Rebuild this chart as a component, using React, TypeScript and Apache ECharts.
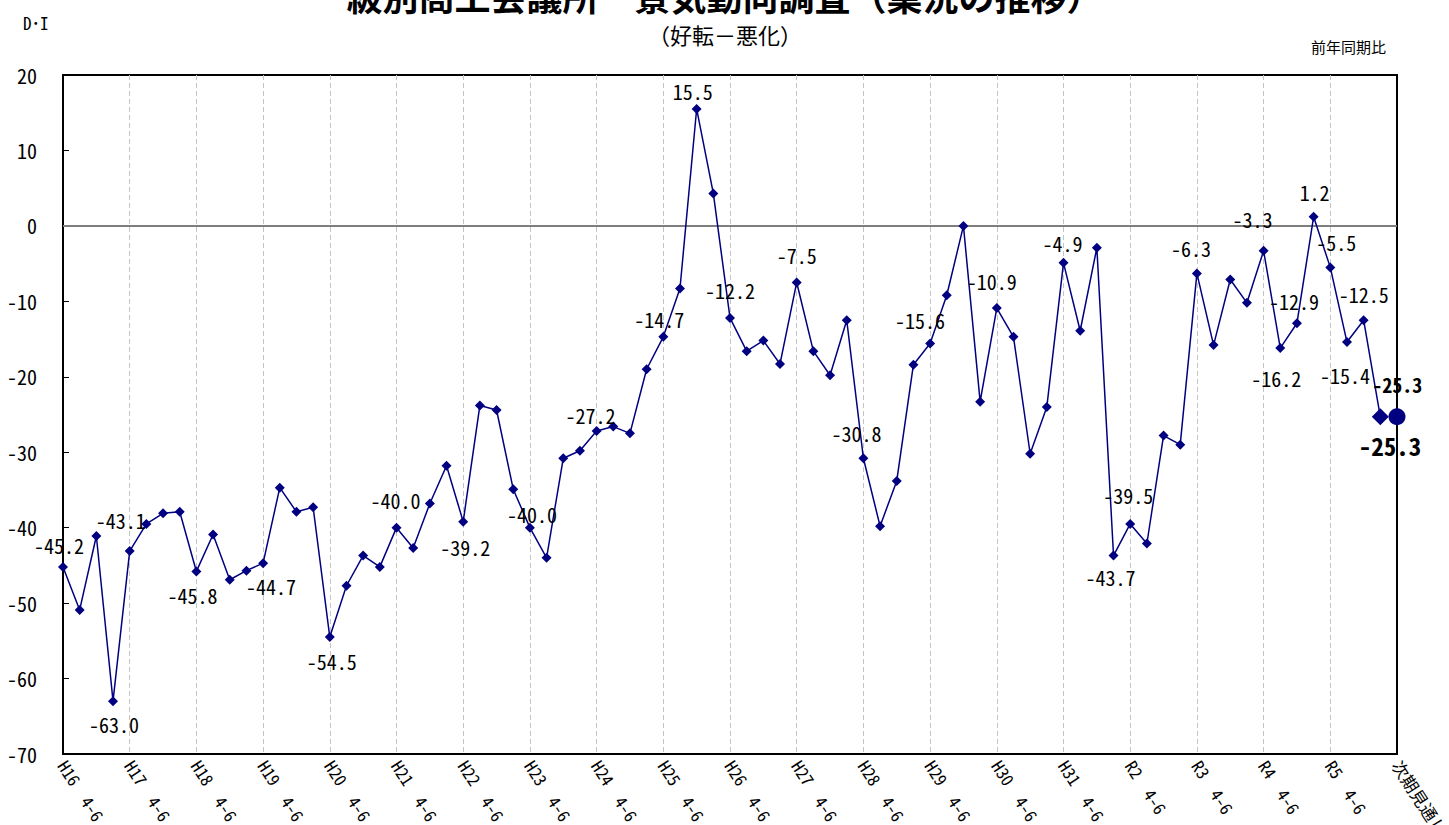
import React, { useEffect, useRef } from "react";
import * as echarts from "echarts";

const years = ["H16","H17","H18","H19","H20","H21","H22","H23","H24","H25","H26","H27","H28","H29","H30","H31","R2","R3","R4","R5"];
const quarters = ["4-6","7-9","10-12","1-3"];
const forecastName = "次期見通し";

const diValues = [
  -45.2, -50.9, -41.1, -63.0,
  -43.1, -39.5, -38.1, -37.9,
  -45.8, -40.9, -46.9, -45.7,
  -44.7, -34.7, -37.9, -37.3,
  -54.5, -47.7, -43.7, -45.2,
  -40.0, -42.7, -36.8, -31.8,
  -39.2, -23.8, -24.4, -34.9,
  -40.0, -44.0, -30.8, -29.8,
  -27.2, -26.6, -27.5, -19.0,
  -14.7, -8.3, 15.5, 4.3,
  -12.2, -16.6, -15.2, -18.3,
  -7.5, -16.6, -19.8, -12.5,
  -30.8, -39.8, -33.8, -18.4,
  -15.6, -9.2, 0.0, -23.3,
  -10.9, -14.7, -30.2, -24.0,
  -4.9, -13.9, -2.9, -43.7,
  -39.5, -42.1, -27.8, -29.0,
  -6.3, -15.8, -7.1, -10.2,
  -3.3, -16.2, -12.9, 1.2,
  -5.5, -15.4, -12.5, -25.3,
];
const forecastValue = -25.3;

const yTicks = { min: -70, max: 20, interval: 10 };

// label placement (style only): index -> [dx, dy] offset of label centre from the point
const labelOffsets: Record<number, [number, number]> = {
  0: [-4, -21], 3: [1, 23], 4: [-9, -31], 8: [-4, 24], 12: [8, 23], 16: [2, 24],
  20: [-1, -27], 24: [2, 26], 28: [2, -13], 32: [-6, -16], 36: [-4, -17], 38: [-4, -17],
  40: [0, -27], 44: [0, -27], 48: [-7, -25], 52: [-10, -23], 56: [-5, -27], 60: [-1, -19],
  63: [-3, 22], 64: [-2, -28], 68: [-6, -25], 72: [-11, -31], 73: [-4, 30], 74: [-3, -22],
  75: [1, -24], 76: [6, -25], 77: [-2, 33], 78: [0, -26], 79: [17, -32],
};

const MONO = "'Noto Sans Mono CJK JP', 'Noto Sans CJK JP', monospace";
const NAVY = "#000080";

export default function App() {
  const ref = useRef<HTMLDivElement>(null);
  useEffect(() => {
    if (!ref.current) return;
    const chart = echarts.init(ref.current, undefined, { renderer: "svg" });
    const categories: string[] = [];
    years.forEach((y) => quarters.forEach((q) => categories.push(y + " " + q)));
    categories.push(forecastName);

    const lastIdx = diValues.length - 1;
    const mainData = diValues.map((v, i) => {
      const off = labelOffsets[i];
      const item: any = { value: v };
      if (i === lastIdx) {
        item.symbolSize = 17;
      }
      if (off) {
        item.label = {
          show: true,
          position: "inside",
          offset: off,
          fontFamily: MONO,
          fontSize: 20,
          color: "#000",
          fontWeight: i === lastIdx ? "bold" : "normal",
          formatter: (p: any) => Number(p.value).toFixed(1),
        };
      }
      return item;
    });
    const forecastData: any[] = categories.map(() => null);
    forecastData[categories.length - 1] = {
      value: forecastValue,
      label: {
        show: true,
        position: "inside",
        offset: [-7, 28],
        fontFamily: MONO,
        fontSize: 25,
        fontWeight: "bold",
        color: "#000",
        formatter: (p: any) => Number(p.value).toFixed(1),
      },
    };

    chart.setOption({
      animation: false,
      backgroundColor: "#fff",
      grid: {
        left: 63,
        right: 52,
        top: 75,
        bottom: 71,
        outerBoundsMode: "none",
        containLabel: false,
        show: true,
        borderColor: "#000",
        borderWidth: 2,
        backgroundColor: "transparent",
      },
      graphic: [
        {
          type: "text",
          left: "center",
          top: -23,
          style: {
            text: "級別商工会議所　景気動向調査（業況の推移）",
            font: "bold 36px 'Noto Sans CJK JP'",
            fill: "#000",
          },
        },
        {
          type: "text",
          x: 725,
          y: 34,
          style: {
            text: "（好転－悪化）",
            font: "22px " + MONO,
            fill: "#000",
            align: "center",
            verticalAlign: "middle",
          },
        },
        {
          type: "text",
          x: 23,
          y: 22,
          style: {
            text: "D･I",
            font: "17px " + MONO,
            fill: "#000",
            verticalAlign: "middle",
          },
        },
        {
          type: "text",
          x: 1386,
          y: 46,
          style: {
            text: "前年同期比",
            font: "15px " + MONO,
            fill: "#000",
            align: "right",
            verticalAlign: "middle",
          },
        },
      ],
      xAxis: {
        type: "category",
        data: categories,
        boundaryGap: false,
        axisLine: { lineStyle: { color: "#000", width: 2 } },
        axisTick: { show: false },
        axisLabel: {
          interval: 3,
          rotate: -57,
          margin: 8,
          fontFamily: MONO,
          fontSize: 17,
          color: "#000",
          formatter: (v: string) => v.replace(" ", "　"),
        },
        splitLine: {
          show: true,
          interval: 3,
          lineStyle: { color: "#c4c4c4", type: [5, 3], width: 1 },
        },
      },
      yAxis: [
        {
          type: "value",
          min: yTicks.min,
          max: yTicks.max,
          interval: yTicks.interval,
          axisLine: { show: true, lineStyle: { color: "#000", width: 2 } },
          axisTick: { show: true, inside: true, length: 6, lineStyle: { color: "#000", width: 1 } },
          axisLabel: { fontFamily: MONO, fontSize: 20, color: "#000", margin: 26 },
          splitLine: { show: false },
        },
        {
          type: "value",
          position: "right",
          min: yTicks.min,
          max: yTicks.max,
          interval: yTicks.interval,
          axisLine: { show: true, lineStyle: { color: "#000", width: 2 } },
          axisTick: { show: false },
          axisLabel: { show: false },
          splitLine: { show: false },
        },
      ],
      series: [
        {
          type: "line",
          data: mainData,
          symbol: "diamond",
          symbolSize: 10,
          lineStyle: { color: NAVY, width: 1.5 },
          itemStyle: { color: NAVY },
          z: 3,
          markLine: {
            silent: true,
            symbol: ["none", "none"],
            label: { show: false },
            lineStyle: { color: "#a8a8a8", type: "solid", width: 1.5 },
            data: [{ yAxis: 0 }],
            z: 1,
          },
        },
        {
          type: "line",
          data: forecastData,
          symbol: "circle",
          symbolSize: 17,
          showSymbol: true,
          lineStyle: { width: 0 },
          itemStyle: { color: NAVY },
          z: 4,
        },
      ],
    });
    return () => chart.dispose();
  }, []);
  return (
    <div
      ref={ref}
      style={{ position: "absolute", left: 0, top: 0, width: 1449, height: 825 }}
    />
  );
}
